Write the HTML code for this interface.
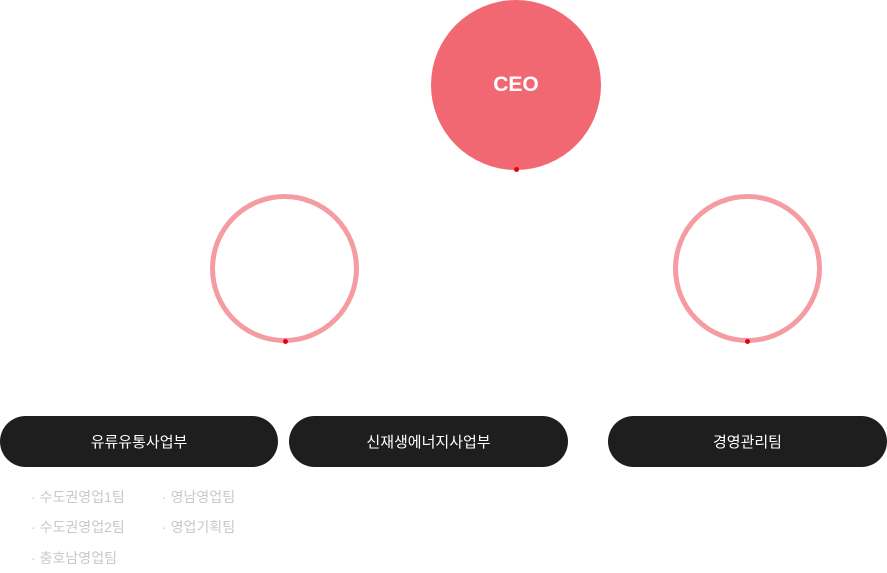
<!DOCTYPE html>
<html><head><meta charset="utf-8"><style>
body{margin:0;width:887px;height:573px;background:#fff;position:relative;overflow:hidden;font-family:"Liberation Sans","Noto Sans CJK KR",sans-serif}
.a{position:absolute}
.ceo{left:431px;top:0;width:170px;height:170px;border-radius:50%;background:#f16872;color:#fff;font-weight:bold;font-size:21px;display:flex;align-items:center;justify-content:center}
.ring{width:139px;height:139px;border:5px solid #f59ca2;border-radius:50%;top:194px}
.dot{width:5px;height:5px;border-radius:50%;background:#e60012}
.pill{top:416px;height:51px;border-radius:26px;background:#1e1e1e;color:#fff;font-size:15px;display:flex;align-items:center;justify-content:center}
.li{font-size:14px;color:#c8c8c8;line-height:16px}
.li b{font-weight:normal;margin-right:4px}
</style></head><body>
<div class="a ceo">CEO</div>
<div class="a dot" style="left:514px;top:167px"></div>
<div class="a ring" style="left:210px"></div>
<div class="a ring" style="left:673px"></div>
<div class="a dot" style="left:283px;top:339px"></div>
<div class="a dot" style="left:745px;top:339px"></div>
<div class="a pill" style="left:0;width:278px">유류유통사업부</div>
<div class="a pill" style="left:289px;width:279px">신재생에너지사업부</div>
<div class="a pill" style="left:608px;width:279px">경영관리팀</div>
<div class="a li" style="left:31px;top:489px"><b>·</b>수도권영업1팀</div>
<div class="a li" style="left:162px;top:489px"><b>·</b>영남영업팀</div>
<div class="a li" style="left:31px;top:519px"><b>·</b>수도권영업2팀</div>
<div class="a li" style="left:162px;top:519px"><b>·</b>영업기획팀</div>
<div class="a li" style="left:31px;top:550px"><b>·</b>충호남영업팀</div>
</body></html>
